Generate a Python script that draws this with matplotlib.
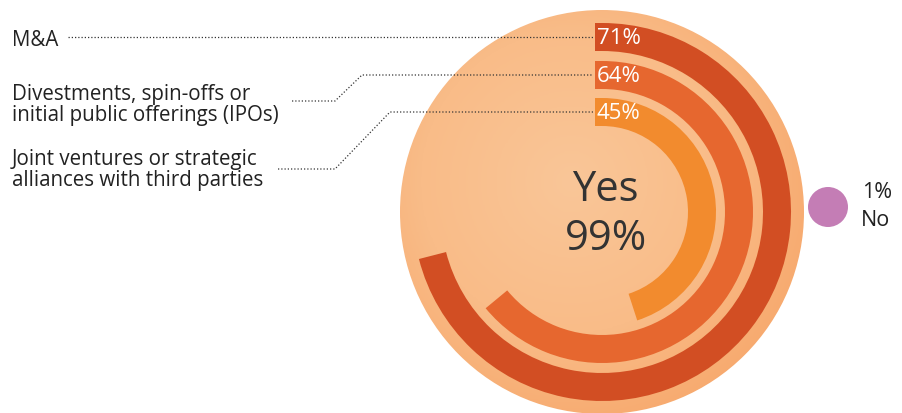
import numpy as np
import matplotlib
matplotlib.use('Agg')
import matplotlib.pyplot as plt
from matplotlib.patches import Wedge, Circle, Rectangle

plt.rcParams['font.family'] = ['Open Sans', 'DejaVu Sans']

# Data
categories = ['M&A',
              'Divestments, spin-offs or\ninitial public offerings (IPOs)',
              'Joint ventures or strategic\nalliances with third parties']
shares = [71, 64, 45]
yes_share = 99
no_share = 1

bar_colors = ['#D24E23', '#E6672F', '#F28B2E']


def main():
    fig = plt.figure(figsize=(9.03, 4.14), dpi=100)
    ax = fig.add_axes([0, 0, 1, 1])
    ax.set_xlim(0, 903)
    ax.set_ylim(414, 0)
    ax.set_aspect('equal')
    ax.axis('off')

    cx, cy, R = 602, 213, 202

    # background disc with radial gradient
    yy, xx = np.mgrid[-1:1:300j, -1:1:300j]
    rr = np.sqrt((xx + 0.15) ** 2 + (yy + 0.15) ** 2)
    img = ax.imshow(rr, extent=(cx - R, cx + R, cy + R, cy - R),
                    cmap=matplotlib.colors.LinearSegmentedColormap.from_list(
                        'g', ['#FAC698', '#F9BC88', '#F6A061']),
                    vmin=0, vmax=1.5, zorder=1)
    disc = Circle((cx, cy), R, transform=ax.transData)
    img.set_clip_path(disc)

    # arcs
    outer = [189, 151, 114]
    width = 28
    line_y = []
    for v, r, c in zip(shares, outer, bar_colors):
        ax.add_patch(Wedge((cx, cy), r, -90, -90 + 360 * v / 100, width=width,
                           facecolor=c, edgecolor='none', zorder=2))
        ax.add_patch(Rectangle((595, cy - r), cx - 595 + 0.5, width,
                               facecolor=c, edgecolor='none', zorder=2))
        ym = cy - r + width / 2
        line_y.append(ym)
        ax.text(597, ym + 1, f'{v}%', color='white', fontsize=16,
                ha='left', va='center', zorder=3)

    # labels + leader lines
    dot = dict(color='#333333', lw=0.9, linestyle=(0, (1, 1.6)), zorder=3)
    lab = dict(fontsize=14.8, ha='left', va='center', color='#222222', linespacing=0.95)
    ax.text(12, 40, categories[0], **lab)
    ax.plot([68, 593], [line_y[0], line_y[0]], **dot)

    ax.text(12, 105, categories[1], **lab)
    ax.plot([292, 335, 362, 593], [102, 102, line_y[1], line_y[1]], **dot)

    ax.text(12, 170, categories[2], **lab)
    ax.plot([278, 335, 390, 593], [170, 170, line_y[2], line_y[2]], **dot)

    # centre text
    ax.text(605, 190, 'Yes', fontsize=30, ha='center', va='center', color='#333333', zorder=3)
    ax.text(606, 239, f'{yes_share}%', fontsize=30, ha='center', va='center',
            color='#333333', zorder=3)

    # No dot
    ax.add_patch(Circle((828, 208), 20, facecolor='#C47DB5', edgecolor='none'))
    ax.text(862, 193, f'{no_share}%', fontsize=15.5, ha='left', va='center', color='#222222')
    ax.text(861, 221, 'No', fontsize=15.5, ha='left', va='center', color='#222222')

    fig.savefig('out.png', dpi=100, facecolor='white')


if __name__ == '__main__':
    main()
